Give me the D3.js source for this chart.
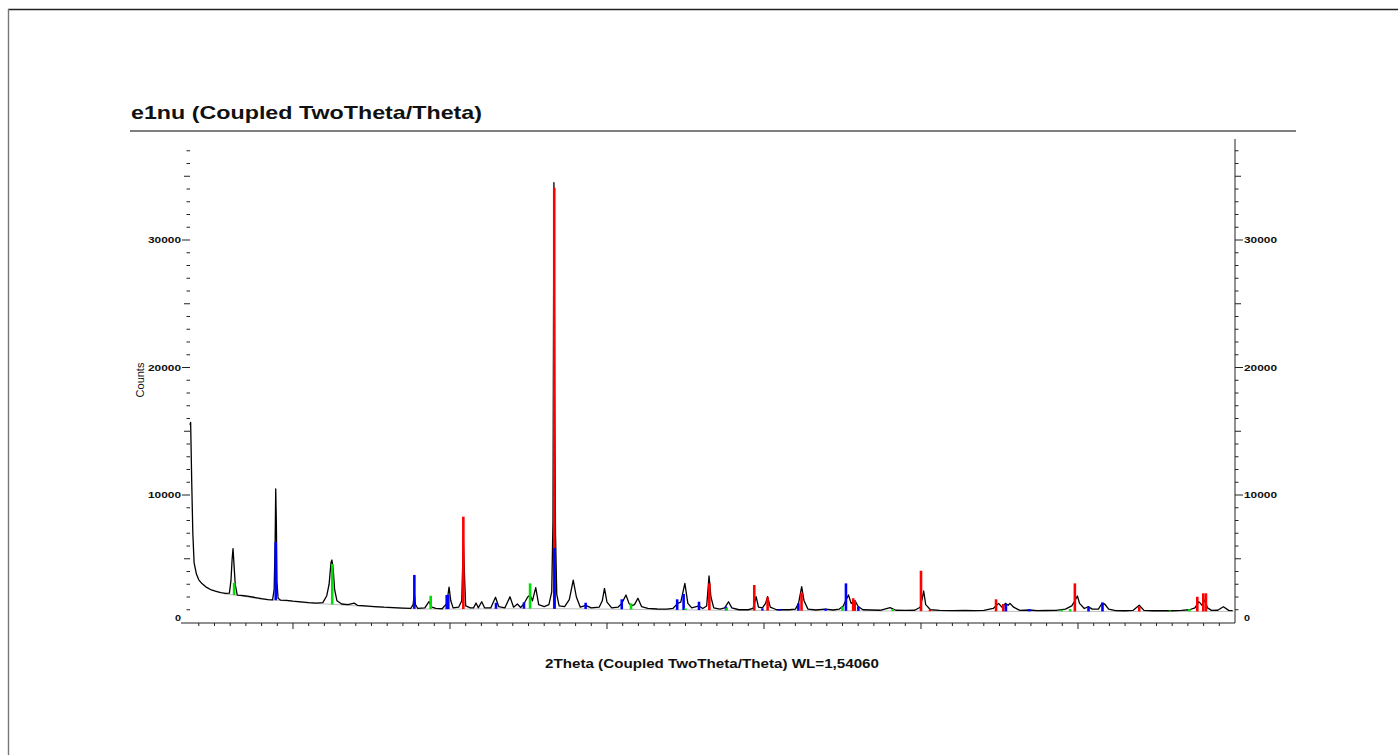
<!DOCTYPE html>
<html>
<head>
<meta charset="utf-8">
<script src="https://cdn.jsdelivr.net/npm/d3@7"></script>
<style>
  body { margin: 0; background: #fff; }
  text { font-family: "Liberation Sans", Arial, sans-serif; fill: #111; }
</style>
</head>
<body>
<div id="chart-area"></div>
<script>
// measured pattern, [2theta, counts]
var pattern = [
  [3.44, 15500], [3.48, 15700], [3.55, 11000], [3.62, 7000], [3.7, 4700], [3.85, 3800], [4.0, 3350],
  [4.2, 3050], [4.5, 2750], [4.8, 2550], [5.1, 2450], [5.4, 2350], [5.7, 2280], [5.95, 2300],
  [6.05, 3300], [6.12, 4900], [6.18, 5800], [6.24, 4600], [6.32, 3000], [6.45, 2150],
  [6.7, 2120], [7.0, 2080], [7.5, 1980], [8.0, 1870], [8.4, 1800], [8.7, 1780],
  [8.8, 2600], [8.86, 6000], [8.9, 10470], [8.94, 7800], [8.98, 3200], [9.05, 1900], [9.2, 1760],
  [9.6, 1740], [10.0, 1680], [10.5, 1620], [11.0, 1560], [11.5, 1520], [11.9, 1560],
  [12.15, 2100], [12.3, 3000], [12.42, 4700], [12.48, 4900], [12.56, 4200], [12.65, 2600],
  [12.8, 1700], [13.1, 1450], [13.5, 1400], [13.9, 1520], [14.1, 1350], [14.6, 1300],
  [15.2, 1250], [15.8, 1200], [16.4, 1170], [17.0, 1130], [17.5, 1100], [17.65, 1400],
  [17.73, 2250], [17.8, 1400], [17.95, 1100], [18.4, 1150], [18.66, 1640], [18.85, 1200],
  [19.1, 1100], [19.5, 1080], [19.8, 1500], [19.94, 2780], [20.05, 1700], [20.2, 1150],
  [20.55, 1200], [20.75, 1700], [20.85, 6600], [20.92, 3800], [21.0, 1300], [21.3, 1150],
  [21.5, 1150], [21.66, 1530], [21.8, 1150], [22.02, 1630], [22.2, 1150], [22.6, 1150],
  [22.9, 1980], [23.1, 1250], [23.5, 1150], [23.82, 2020], [24.05, 1200], [24.29, 1450],
  [24.5, 1180], [24.7, 1450], [24.95, 2000], [25.1, 2160], [25.25, 1700], [25.46, 2730],
  [25.65, 1400], [26.0, 1250], [26.3, 1400], [26.48, 2400], [26.56, 8000], [26.62, 34500],
  [26.67, 17700], [26.72, 7000], [26.8, 2200], [26.95, 1300], [27.3, 1250], [27.6, 1800],
  [27.85, 3330], [28.05, 2000], [28.3, 1200], [28.64, 1350], [29.0, 1150], [29.5, 1200],
  [29.7, 1700], [29.84, 2680], [30.0, 1600], [30.3, 1150], [30.7, 1200], [30.94, 1500],
  [31.21, 2160], [31.4, 1500], [31.55, 1300], [31.75, 1400], [31.97, 1900], [32.2, 1250],
  [32.6, 1100], [33.2, 1060], [33.8, 1050], [34.2, 1100], [34.5, 1500], [34.7, 1600],
  [34.96, 3070], [35.15, 1500], [35.4, 1150], [35.86, 1300], [36.1, 1100], [36.35, 1300],
  [36.5, 3650], [36.62, 2000], [36.8, 1150], [37.2, 1050], [37.5, 1150], [37.74, 1630],
  [37.95, 1150], [38.4, 1000], [39.0, 1000], [39.3, 1100], [39.5, 2020], [39.65, 1200],
  [39.9, 1150], [40.1, 1500], [40.23, 2020], [40.4, 1200], [40.8, 1000], [41.2, 1000],
  [41.6, 1000], [42.0, 1050], [42.2, 1500], [42.4, 2810], [42.55, 1700], [42.8, 1050],
  [43.3, 980], [43.9, 1050], [44.4, 980], [44.8, 1050], [45.05, 1300], [45.2, 1700],
  [45.38, 2160], [45.55, 1500], [45.8, 1710], [46.0, 1250], [46.3, 1000], [46.8, 980],
  [47.4, 960], [48.03, 1160], [48.4, 960], [49.0, 950], [49.6, 960], [49.95, 1200],
  [50.1, 2000], [50.17, 2470], [50.3, 1400], [50.6, 1000], [51.2, 950], [52.0, 930],
  [52.8, 940], [53.4, 930], [54.0, 950], [54.6, 1100], [54.94, 1500], [55.15, 1200],
  [55.38, 1500], [55.55, 1350], [55.67, 1500], [55.9, 1200], [56.3, 950], [56.9, 980],
  [57.4, 930], [58.0, 940], [58.6, 950], [59.2, 1050], [59.6, 1300], [59.8, 1700],
  [59.96, 2080], [60.1, 1500], [60.4, 1100], [60.67, 1240], [60.9, 1050], [61.3, 1050],
  [61.5, 1450], [61.7, 1450], [61.95, 1050], [62.4, 930], [63.0, 920], [63.5, 950],
  [63.9, 1350], [64.2, 950], [64.8, 920], [65.4, 930], [66.0, 920], [66.6, 950],
  [67.1, 1000], [67.45, 1150], [67.69, 1630], [67.8, 1500], [67.9, 1350], [68.05, 1760],
  [68.25, 1150], [68.5, 950], [68.9, 960], [69.26, 1240], [69.6, 950], [69.85, 930]
];

// fitted background (grey line)
var background = [
  [5.6, 2250], [6.6, 2100], [8.0, 1820], [9.5, 1700], [11.0, 1530], [12.5, 1420], [14.0, 1310],
  [16.0, 1160], [18.0, 1060], [20.0, 1050], [22.0, 1070], [24.0, 1080], [26.0, 1090],
  [28.0, 1070], [30.0, 1050], [32.0, 1020], [34.0, 990], [36.0, 980], [38.0, 950],
  [40.0, 940], [42.0, 930], [44.0, 920], [46.0, 910], [48.0, 900], [50.0, 890], [52.0, 880],
  [54.0, 880], [56.0, 870], [58.0, 870], [60.0, 870], [62.0, 870], [64.0, 870], [66.0, 870],
  [68.0, 870], [69.9, 870]
];

// reference phase lines, [2theta, top counts]
var redLines = [
  [20.85, 8300], [26.64, 34100], [36.52, 3070], [39.38, 2940], [40.23, 1980], [42.39, 2340],
  [45.68, 1900], [45.78, 1700], [50.0, 4060], [50.57, 1000], [54.78, 1820], [55.24, 1450],
  [59.8, 3070], [63.9, 1240], [67.6, 2020], [67.98, 2290], [68.15, 2290]
];
var blueLines = [
  [8.9, 6310], [17.73, 3730], [19.79, 2160], [19.89, 2160], [22.93, 1550], [24.71, 1580],
  [26.66, 5840], [28.64, 1550], [30.94, 1820], [34.47, 1820], [34.88, 2240], [35.86, 1630],
  [37.58, 1240], [39.9, 1100], [41.0, 1050], [42.19, 1500], [43.93, 1080], [45.22, 3070],
  [46.01, 1240], [55.41, 1450], [56.9, 1050], [60.67, 1240], [61.56, 1580]
];
var greenLines = [
  [6.25, 3100], [12.5, 4590], [18.77, 2100], [25.1, 3070], [31.53, 1500], [35.0, 1100],
  [37.62, 1150], [45.0, 1240], [48.2, 1050], [58.96, 1000], [59.5, 1050], [65.86, 950],
  [67.09, 1050]
];

var yLabels = [0, 10000, 20000, 30000];

var W = 1398, H = 755;

var svg = d3.select("#chart-area").append("svg")
    .attr("width", W)
    .attr("height", H);

// frame
svg.append("line").attr("x1", 8).attr("x2", W).attr("y1", 9.5).attr("y2", 9.5)
    .attr("stroke", "#222").attr("stroke-width", 1.6);
svg.append("line").attr("x1", 8.5).attr("x2", 8.5).attr("y1", 9).attr("y2", H)
    .attr("stroke", "#777").attr("stroke-width", 1.4);

// title and rule
svg.append("text")
    .attr("x", 131).attr("y", 119)
    .attr("font-size", "19px")
    .attr("font-weight", "bold")
    .attr("textLength", 351)
    .attr("lengthAdjust", "spacingAndGlyphs")
    .text("e1nu (Coupled TwoTheta/Theta)");
svg.append("line").attr("x1", 130).attr("x2", 1296).attr("y1", 131).attr("y2", 131)
    .attr("stroke", "#555").attr("stroke-width", 1.3);

var x = d3.scaleLinear().domain([3.44, 70]).range([190, 1235]);
var y = d3.scaleLinear().domain([0, 38000]).range([622.5, 138]);

// bottom axis
var xAxis = svg.append("g").attr("class", "x axis");
xAxis.append("line").attr("x1", 181).attr("x2", x(70)).attr("y1", 623).attr("y2", 623)
    .attr("stroke", "#222").attr("stroke-width", 1);
xAxis.selectAll("line.tick")
    .data(d3.range(4, 70))
    .enter().append("line")
    .attr("class", "tick")
    .attr("x1", function (d) { return x(d); })
    .attr("x2", function (d) { return x(d); })
    .attr("y1", 623)
    .attr("y2", function (d) { return d % 10 == 0 ? 629 : 626; })
    .attr("stroke", "#222").attr("stroke-width", 1);

// y ticks both sides
var yTicks = d3.range(1000, 38000, 1000);
function tickLen(d) {
  if (d % 10000 == 0) return 8;
  if (d % 5000 == 0) return 6;
  return 3.5;
}
svg.append("g").selectAll("line")
    .data(yTicks)
    .enter().append("line")
    .attr("x1", function (d) { return 190 - tickLen(d); })
    .attr("x2", 190)
    .attr("y1", function (d) { return y(d); })
    .attr("y2", function (d) { return y(d); })
    .attr("stroke", "#222").attr("stroke-width", 1);

var right = x(70);
svg.append("line").attr("x1", right).attr("x2", right).attr("y1", 139).attr("y2", 623)
    .attr("stroke", "#222").attr("stroke-width", 1);
svg.append("g").selectAll("line")
    .data(yTicks)
    .enter().append("line")
    .attr("x1", right)
    .attr("x2", function (d) { return right + tickLen(d); })
    .attr("y1", function (d) { return y(d); })
    .attr("y2", function (d) { return y(d); })
    .attr("stroke", "#222").attr("stroke-width", 1);

// y labels
svg.append("g").selectAll("text")
    .data(yLabels)
    .enter().append("text")
    .attr("x", 181)
    .attr("y", function (d) { return y(d) + (d == 0 ? -1.5 : 3.3); })
    .attr("text-anchor", "end")
    .attr("font-size", "9px")
    .attr("font-weight", "bold")
    .attr("textLength", function (d) { return d == 0 ? 6 : 33; })
    .attr("lengthAdjust", "spacingAndGlyphs")
    .text(function (d) { return d; });
svg.append("g").selectAll("text")
    .data(yLabels)
    .enter().append("text")
    .attr("x", right + 9)
    .attr("y", function (d) { return y(d) + (d == 0 ? -1.5 : 3.3); })
    .attr("font-size", "9px")
    .attr("font-weight", "bold")
    .attr("textLength", function (d) { return d == 0 ? 6 : 33; })
    .attr("lengthAdjust", "spacingAndGlyphs")
    .text(function (d) { return d; });

// axis titles
svg.append("text")
    .attr("transform", "translate(144,380) rotate(-90)")
    .attr("text-anchor", "middle")
    .attr("font-size", "11px")
    .text("Counts");
svg.append("text")
    .attr("x", 545).attr("y", 668)
    .attr("font-size", "12.5px")
    .attr("font-weight", "bold")
    .attr("textLength", 334)
    .attr("lengthAdjust", "spacingAndGlyphs")
    .text("2Theta (Coupled TwoTheta/Theta) WL=1,54060");

var line = d3.line()
    .x(function (d) { return x(d[0]); })
    .y(function (d) { return y(d[1]); });

svg.append("path")
    .datum(background)
    .attr("d", line)
    .attr("fill", "none")
    .attr("stroke", "#bdbdbd")
    .attr("stroke-width", 1);

svg.append("path")
    .datum(pattern)
    .attr("d", line)
    .attr("fill", "none")
    .attr("stroke", "#000")
    .attr("stroke-width", 1.3)
    .attr("stroke-linejoin", "round");

// base of a stick sits on the background line
var bis = d3.bisector(function (d) { return d[0]; }).left;
function baseAt(t) {
  var i = bis(background, t);
  if (i <= 0) return background[0][1];
  if (i >= background.length) return background[background.length - 1][1];
  var a = background[i - 1], b = background[i];
  return a[1] + (b[1] - a[1]) * (t - a[0]) / (b[0] - a[0]);
}

function drawSticks(data, color) {
  svg.append("g").selectAll("line")
      .data(data)
      .enter().append("line")
      .attr("x1", function (d) { return x(d[0]); })
      .attr("x2", function (d) { return x(d[0]); })
      .attr("y1", function (d) { return y(baseAt(d[0])); })
      .attr("y2", function (d) { return y(d[1]); })
      .attr("stroke", color)
      .attr("stroke-width", 2.6);
}
drawSticks(redLines, "#ff0000");
drawSticks(blueLines, "#0000ff");
drawSticks(greenLines, "#00e000");
</script>
</body>
</html>
